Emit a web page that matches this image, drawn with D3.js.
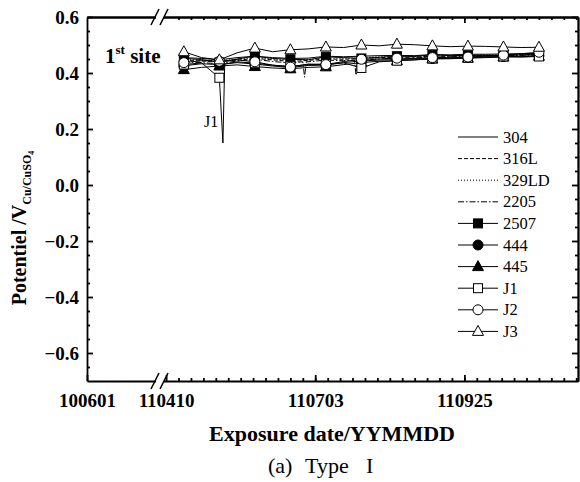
<!DOCTYPE html>
<meta charset="utf-8">
<html>
<body style="margin:0;background:#fff">
<div id="chartContainer"></div>
<script src="https://cdn.jsdelivr.net/npm/d3@7"></script>
<script type="text/javascript">
// sample dates (YYMMDD), markers on every other one
var dates = ["110420","110430","110510","110520","110530","110609","110619","110629","110709","110719","110729",
             "110808","110818","110828","110907","110917","110927","111007","111017","111027","111106"];

var s304   = [0.455,0.452,0.447,0.455,0.460,0.455,0.452,0.453,0.460,0.458,0.460,0.462,0.463,0.462,0.466,0.465,0.467,0.467,0.468,0.469,0.470];
var s316L  = [0.445,0.443,0.440,0.446,0.452,0.447,0.441,0.445,0.450,0.449,0.452,0.455,0.456,0.457,0.460,0.460,0.462,0.462,0.464,0.465,0.466];
var s329LD = [0.448,0.446,0.443,0.450,0.455,0.450,0.446,0.449,0.454,0.452,0.455,0.458,0.459,0.460,0.462,0.462,0.464,0.465,0.466,0.467,0.468];
var s2205  = [0.440,0.437,0.433,0.443,0.449,0.441,0.436,0.440,0.446,0.444,0.445,0.450,0.452,0.454,0.457,0.458,0.460,0.461,0.462,0.463,0.465];
var s2507  = [0.452,0.448,0.438,0.450,0.460,0.452,0.449,0.447,0.458,0.455,0.452,0.456,0.460,0.459,0.465,0.462,0.463,0.463,0.462,0.465,0.466];
var s444   = [0.426,0.433,0.430,0.437,0.432,0.425,0.419,0.427,0.428,0.437,0.443,0.446,0.448,0.450,0.452,0.453,0.455,0.457,0.459,0.460,0.462];
var s445   = [0.412,0.420,0.425,0.429,0.423,0.418,0.415,0.420,0.422,0.430,0.437,0.442,0.444,0.447,0.450,0.451,0.453,0.455,0.457,0.458,0.460];
var sJ1    = [0.430,0.436,0.383,0.440,0.435,0.428,0.424,0.430,0.432,0.436,0.418,0.440,0.444,0.447,0.452,0.453,0.455,0.457,0.459,0.457,0.459];
var sJ2    = [0.437,0.444,0.442,0.447,0.440,0.428,0.421,0.432,0.430,0.441,0.449,0.450,0.453,0.452,0.455,0.456,0.457,0.460,0.464,0.469,0.474];
var sJ3    = [0.476,0.455,0.447,0.472,0.489,0.476,0.483,0.486,0.493,0.491,0.500,0.497,0.503,0.501,0.497,0.494,0.496,0.495,0.493,0.491,0.492];

// short spikes between the samples
var extra2205 = [["110626",0.440],["110627",0.385],["110628",0.441],["110725",0.446],["110726",0.392],["110727",0.445]];
var extraJ1   = [["110512",0.150],["110513",0.432]];

var names = ["304","316L","329LD","2205","2507","444","445","J1","J2","J3"];
var xTickLabels = ["100601","110410","110703","110925"];
var yTicks = [-0.6,-0.4,-0.2,0.0,0.2,0.4,0.6];

var W = 580, H = 482;
var L = 87, R = 578, T = 17, B = 381;
var serif = "'Liberation Serif','Times New Roman',serif";

var parse = d3.timeParse("%y%m%d");

var svg = d3.select("#chartContainer").append("svg")
  .attr("width", W).attr("height", H)
  .style("font-family", serif);

// broken time axis: 100601 .. break .. 111128
var x = d3.scaleTime()
  .domain([parse("100601"), parse("110406"), parse("111128")])
  .range([L, 159, R]);
var y = d3.scaleLinear().domain([-0.7, 0.6]).range([B, T]);

var majorDates = xTickLabels.map(parse);
var minorDates = [];
for (var k = 1; k <= 33; k++) minorDates.push(d3.timeDay.offset(parse("110410"), 7 * k));
var yMinor = d3.range(-0.65, 0.6, 0.05).filter(function (v) { return Math.abs(Math.round(v * 100) % 20) != 0; });

function styleAxis(g) {
  g.selectAll("path,line").attr("stroke", "#000").attr("stroke-width", 1.8);
  g.selectAll("text").attr("fill", "#000").style("font-family", serif)
    .style("font-weight", "bold").style("font-size", "19px");
}

// bottom
svg.append("g").attr("transform", "translate(0," + B + ")")
  .call(d3.axisBottom(x).tickValues(minorDates).tickSizeInner(-3).tickSizeOuter(0).tickFormat(""))
  .call(styleAxis);
svg.append("g").attr("transform", "translate(0," + B + ")")
  .call(d3.axisBottom(x).tickValues(majorDates).tickSizeInner(-6).tickSizeOuter(0).tickPadding(13)
    .tickFormat(d3.timeFormat("%y%m%d")))
  .call(styleAxis)
  .call(function (g) { g.select(".domain").remove(); });
// top
svg.append("g").attr("transform", "translate(0," + T + ")")
  .call(d3.axisTop(x).tickValues(minorDates).tickSizeInner(-3).tickSizeOuter(0).tickFormat(""))
  .call(styleAxis);
svg.append("g").attr("transform", "translate(0," + T + ")")
  .call(d3.axisTop(x).tickValues(majorDates.slice(2)).tickSizeInner(-6).tickSizeOuter(0).tickFormat(""))
  .call(styleAxis);
// left
svg.append("g").attr("transform", "translate(" + L + ",0)")
  .call(d3.axisLeft(y).tickValues(yMinor).tickSizeInner(-3).tickSizeOuter(0).tickFormat(""))
  .call(styleAxis);
svg.append("g").attr("transform", "translate(" + L + ",0)")
  .call(d3.axisLeft(y).tickValues(yTicks).tickSizeInner(-6).tickSizeOuter(0).tickPadding(8)
    .tickFormat(d3.format(".1f")))
  .call(styleAxis)
  .call(function (g) { g.select(".domain").remove(); });
// right
svg.append("g").attr("transform", "translate(" + R + ",0)")
  .call(d3.axisRight(y).tickValues(yMinor).tickSizeInner(-3).tickSizeOuter(0).tickFormat(""))
  .call(styleAxis);
svg.append("g").attr("transform", "translate(" + R + ",0)")
  .call(d3.axisRight(y).tickValues(yTicks).tickSizeInner(-6).tickSizeOuter(0).tickFormat(""))
  .call(styleAxis);

// axis break marks
[B, T].forEach(function (yy) {
  svg.append("rect").attr("x", 156).attr("y", yy - 2).attr("width", 8).attr("height", 4).attr("fill", "#fff");
  [155, 164].forEach(function (cx) {
    svg.append("line").attr("x1", cx - 4).attr("y1", yy + 8).attr("x2", cx + 4).attr("y2", yy - 8)
      .attr("stroke", "#000").attr("stroke-width", 1.5);
  });
});

// series
var table = [s304, s316L, s329LD, s2205, s2507, s444, s445, sJ1, sJ2, sJ3];
var extras = {"2205": extra2205, "J1": extraJ1};
var dashes = {"316L": "4,2", "329LD": "1,2", "2205": "6,2,1.5,2"};
var markers = {"2507": "sqF", "444": "cirF", "445": "triF", "J1": "sq", "J2": "cir", "J3": "tri"};

function drawMarker(g, type, cx, cy) {
  var filled = /F$/.test(type);
  var fill = filled ? "#000" : "#fff";
  var m;
  if (/^sq/.test(type)) {
    m = g.append("rect").attr("x", cx - 4.5).attr("y", cy - 4.5).attr("width", 9).attr("height", 9);
  } else if (/^cir/.test(type)) {
    m = g.append("circle").attr("cx", cx).attr("cy", cy).attr("r", 5);
  } else {
    m = g.append("path").attr("d", "M" + cx + "," + (cy - 6) + "L" + (cx + 5.5) + "," + (cy + 4) + "L" + (cx - 5.5) + "," + (cy + 4) + "Z");
  }
  m.attr("fill", fill).attr("stroke", "#000").attr("stroke-width", 1);
}

var line = d3.line().x(function (d) { return x(d[0]); }).y(function (d) { return y(d[1]); });
var plot = svg.append("g");

names.forEach(function (n, i) {
  var pts = dates.map(function (d, j) { return [parse(d), table[i][j]]; });
  (extras[n] || []).forEach(function (e) { pts.push([parse(e[0]), e[1]]); });
  pts.sort(function (a, b) { return a[0] - b[0]; });
  plot.append("path").datum(pts).attr("d", line)
    .attr("fill", "none").attr("stroke", "#000").attr("stroke-width", 1)
    .attr("stroke-dasharray", dashes[n] || null);
});
names.forEach(function (n, i) {
  if (!markers[n]) return;
  dates.forEach(function (d, j) {
    if (j % 2) return;
    drawMarker(plot, markers[n], x(parse(d)), y(table[i][j]));
  });
});

// legend
var lg = svg.append("g");
names.forEach(function (n, i) {
  var ly = 137 + i * 21.6;
  lg.append("line").attr("x1", 458).attr("x2", 498).attr("y1", ly).attr("y2", ly)
    .attr("stroke", "#000").attr("stroke-width", 1).attr("stroke-dasharray", dashes[n] || null);
  if (markers[n]) drawMarker(lg, markers[n], 478, ly);
  lg.append("text").attr("x", 503).attr("y", ly + 5.5).attr("fill", "#000").style("font-size", "16.5px").text(n);
});

// annotations
svg.append("text").attr("x", 204).attr("y", 127).attr("fill", "#000").style("font-size", "16px").text("J1");
var site = svg.append("text").attr("x", 105).attr("y", 63).attr("fill", "#000")
  .style("font-size", "21px").style("font-weight", "bold");
site.append("tspan").text("1");
site.append("tspan").attr("dy", -9).style("font-size", "13px").text("st");
site.append("tspan").attr("dy", 9).text(" site");

svg.append("text").attr("x", 332).attr("y", 441).attr("text-anchor", "middle").attr("fill", "#000")
  .style("font-size", "22px").style("font-weight", "bold").text("Exposure date/YYMMDD");
var cap = svg.append("text").attr("y", 473).attr("fill", "#000").style("font-size", "22px");
cap.append("tspan").attr("x", 268).text("(a)");
cap.append("tspan").attr("x", 305).text("Type");
cap.append("tspan").attr("x", 366).text("I");

var yt = svg.append("text").attr("transform", "translate(26,228) rotate(-90)").attr("fill", "#000")
  .attr("text-anchor", "middle").style("font-weight", "bold").style("font-size", "20px");
yt.append("tspan").text("Potentiel /V");
yt.append("tspan").attr("dy", 5).style("font-size", "12px").text("Cu/CuSO");
yt.append("tspan").attr("dy", 3).style("font-size", "8px").text("4");
</script>
</body>
</html>
